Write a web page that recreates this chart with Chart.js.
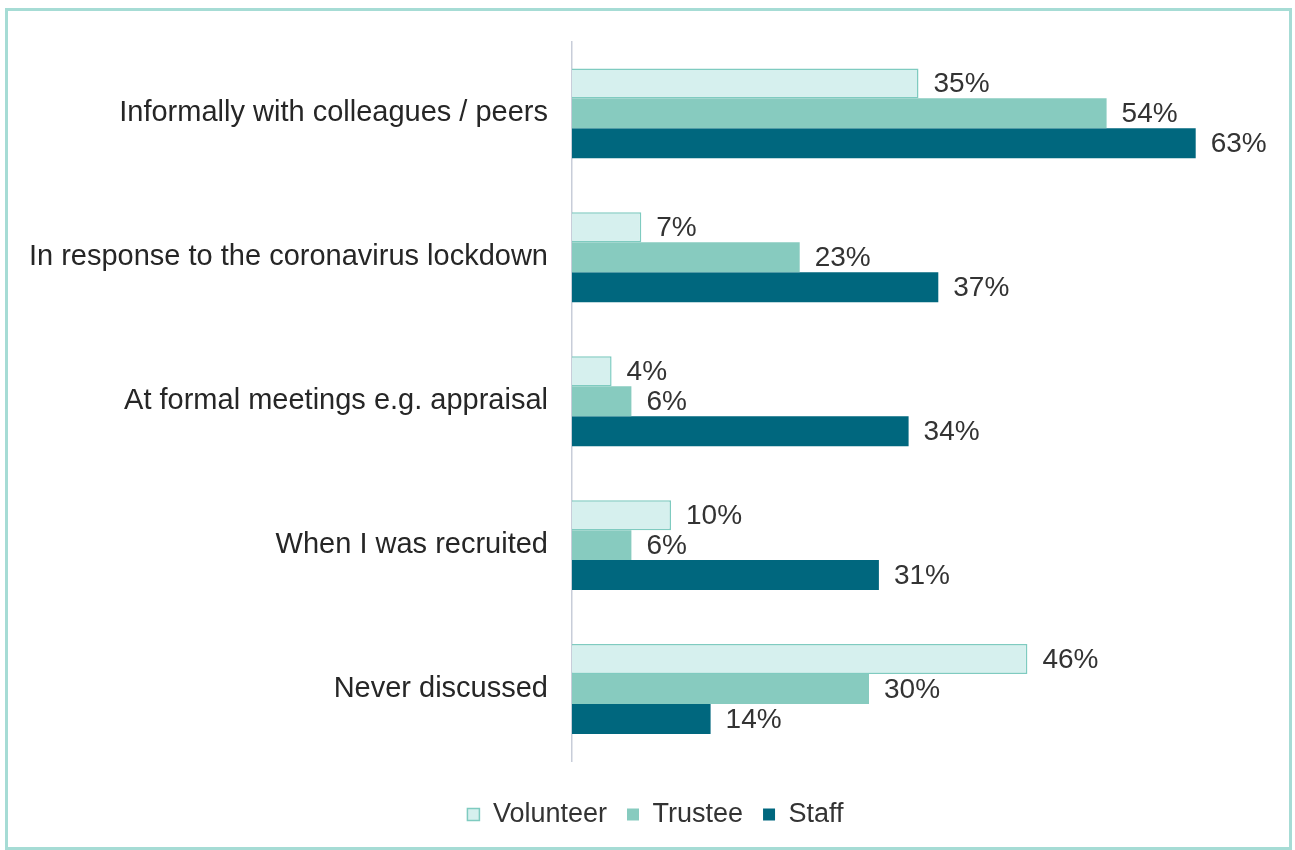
<!DOCTYPE html>
<html>
<head>
<meta charset="utf-8">
<script src="https://cdn.jsdelivr.net/npm/chart.js@4/dist/chart.umd.min.js"></script>
<style>
  html, body { margin: 0; padding: 0; background: #fff; }
  #frame {
    position: absolute; left: 5px; top: 8px;
    width: 1281px; height: 836px;
    border: 3px solid #a6dcd5;
  }
  #wrap { position: absolute; left: 0; top: 0; width: 1295px; height: 850px; }
</style>
</head>
<body>
<div id="frame"></div>
<div id="wrap"><canvas id="chart" width="1295" height="850"></canvas></div>
<script>
// Categories and series values (percent)
const categories = [
    'Informally with colleagues / peers',
    'In response to the coronavirus lockdown',
    'At formal meetings e.g. appraisal',
    'When I was recruited',
    'Never discussed'
];
const volunteerValues = [35, 7, 4, 10, 46];
const trusteeValues = [54, 23, 6, 6, 30];
const staffValues = [63, 37, 34, 31, 14];

const FONT = "'Liberation Sans', Arial, Helvetica, sans-serif";
const FONT_SIZE = 28;

// Draw the "NN%" label just past the end of each bar
const valueLabels = {
    id: 'valueLabels',
    afterDatasetsDraw(chart) {
        const ctx = chart.ctx;
        ctx.save();
        ctx.font = FONT_SIZE + 'px ' + FONT;
        ctx.fillStyle = '#333333';
        ctx.textBaseline = 'middle';
        ctx.textAlign = 'left';
        chart.data.datasets.forEach((ds, i) => {
            const meta = chart.getDatasetMeta(i);
            meta.data.forEach((bar, j) => {
                ctx.fillText(ds.data[j] + '%', bar.x + 15, bar.y + 1);
            });
        });
        ctx.restore();
    }
};

// Nudge the legend a little right, like the original
const legendShift = {
    id: 'legendShift',
    afterLayout(chart) {
        if (chart.legend) chart.legend.left += 46;
    }
};

new Chart(document.getElementById('chart'), {
    type: 'bar',
    data: {
        labels: categories,
        datasets: [
            {
                label: 'Volunteer',
                data: volunteerValues,
                backgroundColor: '#d6f0ee',
                borderColor: '#7fcbc0',
                borderWidth: 1.5,
                borderSkipped: 'start'
            },
            {
                label: 'Trustee',
                data: trusteeValues,
                backgroundColor: '#87cbbf',
                borderWidth: 0
            },
            {
                label: 'Staff',
                data: staffValues,
                backgroundColor: '#00677e',
                borderWidth: 0
            }
        ]
    },
    options: {
        indexAxis: 'y',
        responsive: false,
        animation: false,
        events: [],
        datasets: {
            bar: { barPercentage: 1, categoryPercentage: 0.625 }
        },
        layout: { padding: { top: 33, right: 30, bottom: 12, left: 0 } },
        plugins: {
            tooltip: { enabled: false },
            legend: {
                position: 'bottom',
                labels: {
                    color: '#333333',
                    font: { family: FONT, size: 27 },
                    boxWidth: 12,
                    boxHeight: 12,
                    padding: 20
                }
            }
        },
        scales: {
            x: {
                min: 0,
                max: 70,
                display: true,
                afterFit: (s) => { s.height = 20; },
                grid: { display: false, drawTicks: false },
                border: { display: false },
                ticks: { display: false }
            },
            y: {
                afterFit: (s) => { s.width = 572; },
                grid: { display: false, drawTicks: false },
                border: { display: true, color: '#c8cdd9', width: 1.5 },
                ticks: {
                    color: '#262626',
                    padding: 24,
                    font: { family: FONT, size: 29 }
                }
            }
        }
    },
    plugins: [valueLabels, legendShift]
});
</script>
</body>
</html>
